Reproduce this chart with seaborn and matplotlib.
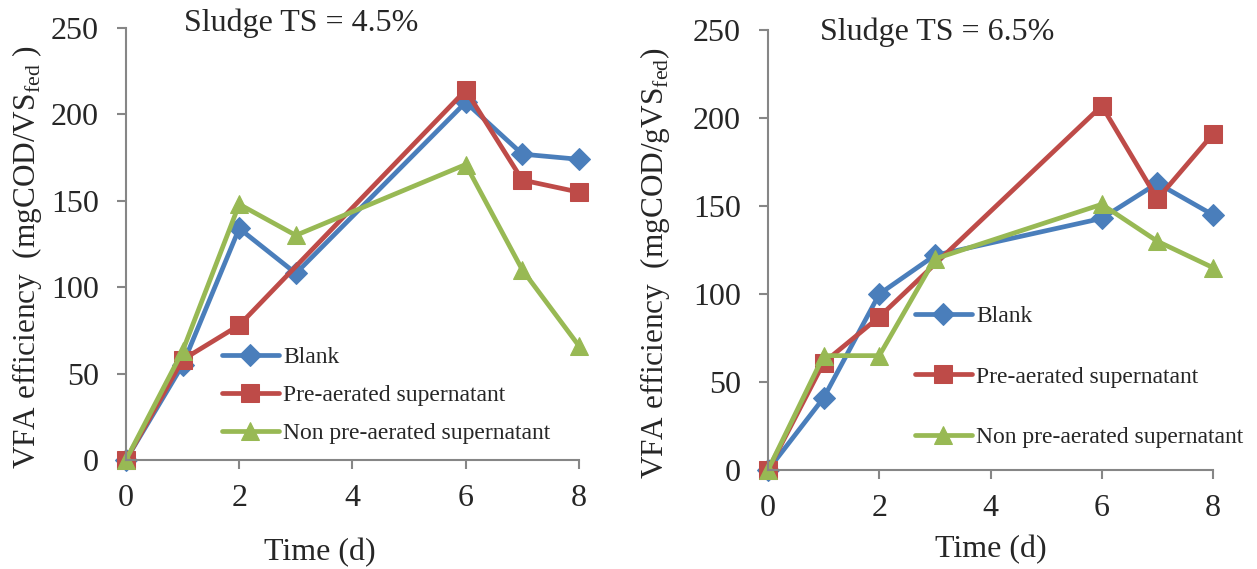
import matplotlib
matplotlib.use("Agg")
import matplotlib.pyplot as plt
import seaborn as sns

# data (Time in d, VFA efficiency)
# TS = 4.5 %
t_blank_45 = [0, 1, 2, 3, 6, 7, 8]
blank_45 = [0, 55, 134, 108, 207, 177, 174]
t_pre_45 = [0, 1, 2, 6, 7, 8]
pre_45 = [0, 58, 78, 214, 162, 155]
t_non_45 = [0, 1, 2, 3, 6, 7, 8]
non_45 = [0, 63, 148, 130, 171, 110, 66]

# TS = 6.5 %
t_blank_65 = [0, 1, 2, 3, 6, 7, 8]
blank_65 = [0, 41, 100, 122, 143, 163, 145]
t_pre_65 = [0, 1, 2, 6, 7, 8]
pre_65 = [0, 61, 87, 207, 154, 191]
t_non_65 = [0, 1, 2, 3, 6, 7, 8]
non_65 = [0, 65, 65, 120, 151, 130, 115]

labels = ["Blank", "Pre-aerated supernatant", "Non pre-aerated supernatant"]
titles = ["Sludge TS = 4.5%", "Sludge TS = 6.5%"]
ylabels = ["VFA efficiency  (mgCOD/VS$_\\mathregular{fed}$ )",
           "VFA efficiency  (mgCOD/gVS$_\\mathregular{fed}$)"]
xticks = [0, 2, 4, 6, 8]
yticks = [0, 50, 100, 150, 200, 250]

sns.set_style("white")
plt.rcParams["font.family"] = ["Liberation Serif", "DejaVu Serif"]
plt.rcParams["mathtext.fontset"] = "custom"
plt.rcParams["mathtext.rm"] = "Liberation Serif"

colors = ["#4A7EBB", "#BE4B48", "#98B954"]
markers = ["D", "s", "^"]
msizes = [11, 13, 13]
grey = "#868686"

fig = plt.figure(figsize=(12.57, 5.69), dpi=100)
ax1 = fig.add_axes([0.1002, 0.1916, 0.3604, 0.7592])
ax2 = fig.add_axes([0.611, 0.174, 0.354, 0.773])

panels = [
    (ax1, [(t_blank_45, blank_45), (t_pre_45, pre_45), (t_non_45, non_45)]),
    (ax2, [(t_blank_65, blank_65), (t_pre_65, pre_65), (t_non_65, non_65)]),
]

for i, (ax, series) in enumerate(panels):
    for (tx, vy), c, m, ms, lab in zip(series, colors, markers, msizes, labels):
        sns.lineplot(x=tx, y=vy, ax=ax, color=c, marker=m, markersize=ms,
                     markeredgecolor=c, linewidth=3.4, label=lab, clip_on=False)
    ax.set_xlim(0, 8)
    ax.set_ylim(0, 250)
    ax.set_xticks(xticks)
    ax.set_yticks(yticks)
    sns.despine(ax=ax)
    for s in ["left", "bottom"]:
        ax.spines[s].set_color(grey)
        ax.spines[s].set_linewidth(1.5)
    ax.tick_params(axis="both", direction="out", length=6.5, width=1.5,
                   color=grey, labelsize=23, bottom=True, left=True)
    ax.tick_params(axis="y", pad=13)
    ax.tick_params(axis="x", pad=11)
    ax.set_xlabel("Time (d)", fontsize=23)
    ax.set_ylabel(ylabels[i], fontsize=22.5)

ax1.xaxis.set_label_coords(0.428, -0.18)
ax2.xaxis.set_label_coords(0.5, -0.148)
ax1.yaxis.set_label_coords(-0.18, 0.47)
ax2.yaxis.set_label_coords(-0.215, 0.47)

ax1.text(0.386, 1.01, titles[0], transform=ax1.transAxes, fontsize=23,
         ha="center", va="center")
ax2.text(0.38, 0.995, titles[1], transform=ax2.transAxes, fontsize=23,
         ha="center", va="center")

ax1.legend(loc="center left", bbox_to_anchor=(0.212, 0.15), frameon=False,
           fontsize=17, labelspacing=0.7, handlelength=2.4, handletextpad=0.2,
           borderpad=0, borderaxespad=0)
ax2.legend(loc="center left", bbox_to_anchor=(0.33, 0.212), frameon=False,
           fontsize=17, labelspacing=1.65, handlelength=2.4, handletextpad=0.2,
           borderpad=0, borderaxespad=0)

fig.savefig("out.png", dpi=100)
